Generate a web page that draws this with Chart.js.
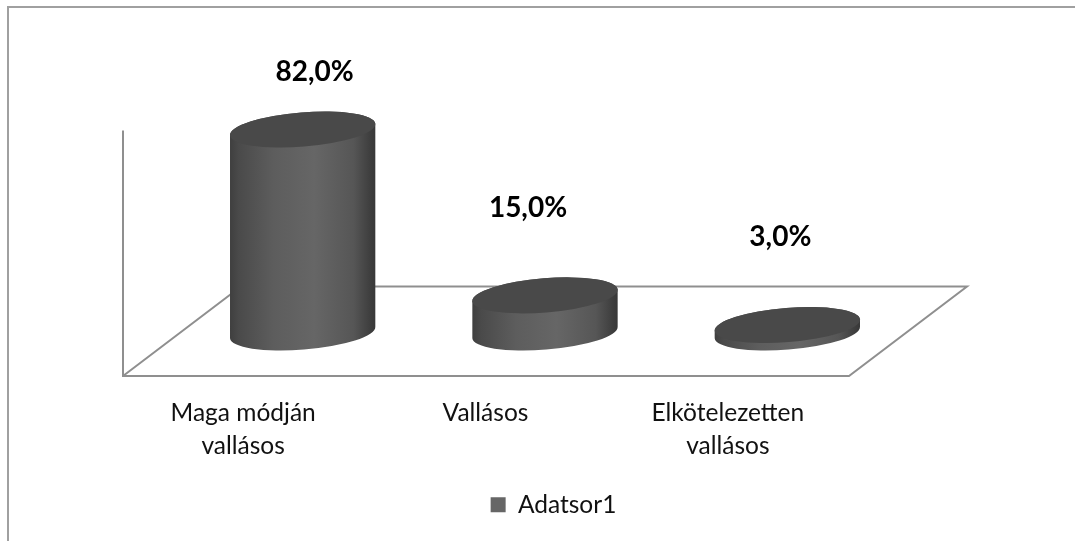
<!DOCTYPE html>
<html><head><meta charset="utf-8">
<style>html,body{margin:0;padding:0;background:#fff}canvas{display:block}</style>
<script src="https://cdn.jsdelivr.net/npm/chart.js@4"></script>
</head><body><canvas id="c" width="1075" height="541"></canvas>
<script>
const categories = [['Maga módján','vallásos'],'Vallásos',['Elkötelezetten','vallásos']];
const seriesName = 'Adatsor1';
const values = [82, 15, 3];
const valueLabels = ['82,0%','15,0%','3,0%'];
const FONT = 'Lato, "Open Sans", sans-serif';
// 3D look: bars stand mid-depth on a sheared floor, so they sit right of their tick
const depthShift = 59.5;
const labelDX = [12, -17, -7];
const labelDY = [58, 87, 88];
const ELL = {a:1.0025, b:17.1, rot:-4.56*Math.PI/180};

function ellipseGeom(half){
  const a = half*ELL.a, b = ELL.b, t = ELL.rot;
  const xExt = Math.sqrt(a*a*Math.cos(t)**2 + b*b*Math.sin(t)**2);
  const yOff = (a*a-b*b)*Math.sin(t)*Math.cos(t)/xExt;
  const phi = Math.atan2(b*(-Math.sin(t)*xExt + Math.cos(t)*yOff), a*(Math.cos(t)*xExt + Math.sin(t)*yOff));
  return {a,b,t,xExt,yOff,phi};
}
const cyl3d = {
  id:'cyl3d',
  afterLayout(chart){ chart.legend.left += 68; chart.legend.right += 68; },
  beforeDraw(chart){
    const {ctx, chartArea:{left,right,bottom}} = chart;
    ctx.save();
    ctx.strokeStyle='#a0a0a0'; ctx.lineWidth=2;
    ctx.beginPath(); ctx.moveTo(1075,7); ctx.lineTo(8,7); ctx.lineTo(8,541); ctx.stroke();
    const y=chart.scales.y, zero=bottom;
    ctx.strokeStyle='#8f8f8f'; ctx.lineWidth=2;
    const front=zero+43.5, back=zero-46, sx=118;
    ctx.beginPath();
    ctx.moveTo(left+1,y.getPixelForValue(82)+1);
    ctx.lineTo(left+1,front); ctx.lineTo(right,front);
    ctx.lineTo(right+sx,back); ctx.lineTo(left+sx+1,back); ctx.lineTo(left+1,front);
    ctx.stroke();
    ctx.restore();
  },
  beforeDatasetDraw(chart,args){
    const {ctx} = chart, meta=args.meta;
    meta.data.forEach((el,i)=>{
      const half=el.width/2, cx=el.x+depthShift, top=el.y, base=el.base;
      const g=ellipseGeom(half);
      const grad=ctx.createLinearGradient(cx-half,0,cx+half,0);
      grad.addColorStop(0,'#3f3f3f'); grad.addColorStop(.06,'#4a4a4a'); grad.addColorStop(.3,'#5d5d5d');
      grad.addColorStop(.58,'#666666'); grad.addColorStop(.85,'#565656'); grad.addColorStop(.97,'#3d3d3d'); grad.addColorStop(1,'#383838');
      ctx.save();
      ctx.beginPath();
      ctx.ellipse(cx,base,g.a,g.b,g.t,g.phi,g.phi+Math.PI);
      ctx.ellipse(cx,top,g.a,g.b,g.t,g.phi+Math.PI,g.phi+2*Math.PI);
      ctx.closePath();
      ctx.fillStyle=grad; ctx.fill();
      ctx.beginPath();
      ctx.ellipse(cx,top,g.a,g.b,g.t,0,Math.PI*2);
      ctx.fillStyle='#494949'; ctx.fill();
      ctx.restore();
    });
    return false;
  },
  afterDraw(chart){
    const {ctx}=chart, meta=chart.getDatasetMeta(0);
    ctx.save();
    ctx.font='bold 28px '+FONT; ctx.fillStyle='#000'; ctx.textAlign='center'; ctx.textBaseline='middle';
    meta.data.forEach((el,i)=>{
      ctx.fillText(valueLabels[i], el.x+depthShift+labelDX[i], el.y-labelDY[i]);
    });
    ctx.restore();
  }
};
new Chart(document.getElementById('c'),{
  type:'bar',
  data:{labels:categories,datasets:[{label:seriesName,data:values,backgroundColor:'#666666',borderWidth:0,categoryPercentage:.6,barPercentage:1}]},
  options:{
    responsive:false,animation:false,
    layout:{padding:{left:122,right:226,top:85,bottom:14}},
    scales:{
      x:{grid:{display:false},border:{display:false},
        afterFit(s){ s.height=148; },
        ticks:{color:'#111',font:{family:FONT,size:24.5,lineHeight:1.35},padding:56,maxRotation:0,autoSkip:false}},
      y:{display:false,min:0,max:100}
    },
    plugins:{
      legend:{position:'bottom',labels:{color:'#111',font:{family:FONT,size:24.5},boxWidth:15,boxHeight:15,padding:12}},
      tooltip:{enabled:false}
    }
  },
  plugins:[cyl3d]
});
</script></body></html>
